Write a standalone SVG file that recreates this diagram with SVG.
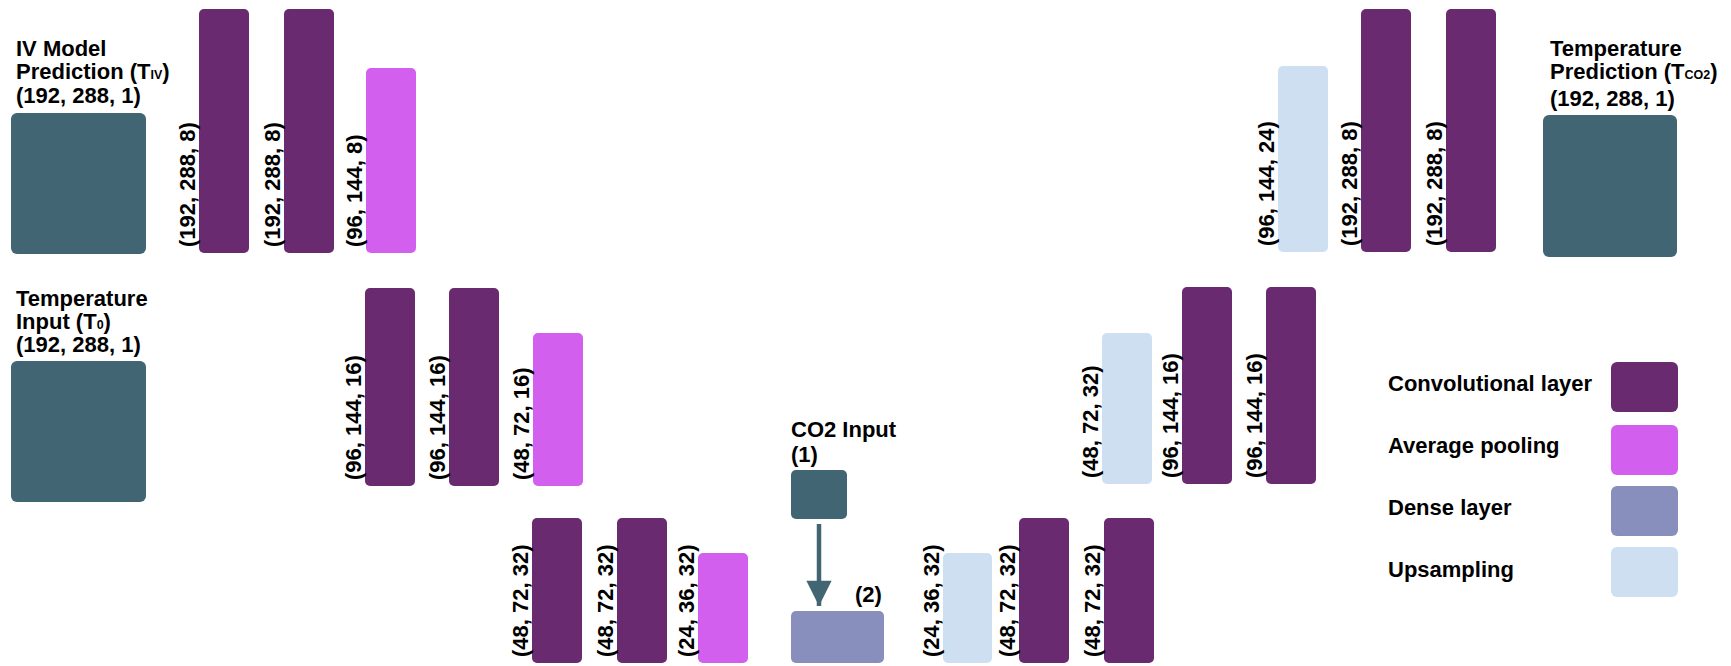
<svg xmlns="http://www.w3.org/2000/svg" width="1731" height="666" viewBox="0 0 1731 666">
  <style>
    text { font-family: "Liberation Sans", Arial, Helvetica, sans-serif; font-weight: bold; fill: #000; font-size: 22px; }
    .sub { font-size: 12.5px; }
    .conv { fill: #692a70; }
    .pool { fill: #d35fee; }
    .dense { fill: #898fbd; }
    .up { fill: #cedff2; }
    .io { fill: #416573; }
  </style>
  <defs>
    <marker id="head" viewBox="0 0 10 10" refX="10" refY="5" markerWidth="6.4" markerHeight="5.6" markerUnits="strokeWidth" orient="auto">
      <path d="M0,0 L10,5 L0,10 Z" fill="#416573"/>
    </marker>
  </defs>
  <rect width="1731" height="666" fill="#fff"/>

  <!-- Inputs and output -->
  <g id="iv-prediction">
    <text x="16" y="56">IV Model</text>
    <text x="16" y="79">Prediction (T<tspan class="sub">IV</tspan>)</text>
    <text x="16" y="103">(192, 288, 1)</text>
    <rect class="io" x="11" y="113" width="135" height="141" rx="6"/>
  </g>
  <g id="temperature-input">
    <text x="16" y="306">Temperature</text>
    <text x="16" y="329">Input (T<tspan class="sub">0</tspan>)</text>
    <text x="16" y="352">(192, 288, 1)</text>
    <rect class="io" x="11" y="361" width="135" height="141" rx="6"/>
  </g>
  <g id="temperature-prediction">
    <text x="1550" y="56">Temperature</text>
    <text x="1550" y="79">Prediction (T<tspan class="sub">CO2</tspan>)</text>
    <text x="1550" y="106">(192, 288, 1)</text>
    <rect class="io" x="1543" y="115" width="134" height="142" rx="6"/>
  </g>
  <g id="co2-input">
    <text x="791" y="437">CO2 Input</text>
    <text x="791" y="462">(1)</text>
    <rect class="io" x="791" y="470" width="56" height="49" rx="5"/>
  </g>
  <g id="dense">
    <text x="855" y="602">(2)</text>
    <rect class="dense" x="791" y="611" width="93" height="52" rx="5"/>
  </g>

  <!-- Encoder, level 1 -->
  <g id="enc1-conv1">
    <rect class="conv" x="199" y="9" width="50" height="244" rx="5"/>
    <text transform="translate(195,247) rotate(-90)">(192, 288, 8)</text>
  </g>
  <g id="enc1-conv2">
    <rect class="conv" x="284" y="9" width="50" height="244" rx="5"/>
    <text transform="translate(280,247) rotate(-90)">(192, 288, 8)</text>
  </g>
  <g id="enc1-pool">
    <rect class="pool" x="366" y="68" width="50" height="185" rx="5"/>
    <text transform="translate(362,247) rotate(-90)">(96, 144, 8)</text>
  </g>

  <!-- Encoder, level 2 -->
  <g id="enc2-conv1">
    <rect class="conv" x="365" y="288" width="50" height="198" rx="5"/>
    <text transform="translate(361,480) rotate(-90)">(96, 144, 16)</text>
  </g>
  <g id="enc2-conv2">
    <rect class="conv" x="449" y="288" width="50" height="198" rx="5"/>
    <text transform="translate(445,480) rotate(-90)">(96, 144, 16)</text>
  </g>
  <g id="enc2-pool">
    <rect class="pool" x="533" y="333" width="50" height="153" rx="5"/>
    <text transform="translate(529,480) rotate(-90)">(48, 72, 16)</text>
  </g>

  <!-- Encoder, level 3 -->
  <g id="enc3-conv1">
    <rect class="conv" x="532" y="518" width="50" height="145" rx="5"/>
    <text transform="translate(528,657) rotate(-90)">(48, 72, 32)</text>
  </g>
  <g id="enc3-conv2">
    <rect class="conv" x="617" y="518" width="50" height="145" rx="5"/>
    <text transform="translate(613,657) rotate(-90)">(48, 72, 32)</text>
  </g>
  <g id="enc3-pool">
    <rect class="pool" x="698" y="553" width="50" height="110" rx="5"/>
    <text transform="translate(694,657) rotate(-90)">(24, 36, 32)</text>
  </g>

  <!-- Decoder, level 3 -->
  <g id="dec3-up">
    <rect class="up" x="943" y="553" width="49" height="110" rx="5"/>
    <text transform="translate(939,657) rotate(-90)">(24, 36, 32)</text>
  </g>
  <g id="dec3-conv1">
    <rect class="conv" x="1019" y="518" width="50" height="145" rx="5"/>
    <text transform="translate(1015,657) rotate(-90)">(48, 72, 32)</text>
  </g>
  <g id="dec3-conv2">
    <rect class="conv" x="1104" y="518" width="50" height="145" rx="5"/>
    <text transform="translate(1100,657) rotate(-90)">(48, 72, 32)</text>
  </g>

  <!-- Decoder, level 2 -->
  <g id="dec2-up">
    <rect class="up" x="1102" y="333" width="50" height="151" rx="5"/>
    <text transform="translate(1098,478) rotate(-90)">(48, 72, 32)</text>
  </g>
  <g id="dec2-conv1">
    <rect class="conv" x="1182" y="287" width="50" height="197" rx="5"/>
    <text transform="translate(1178,478) rotate(-90)">(96, 144, 16)</text>
  </g>
  <g id="dec2-conv2">
    <rect class="conv" x="1266" y="287" width="50" height="197" rx="5"/>
    <text transform="translate(1262,478) rotate(-90)">(96, 144, 16)</text>
  </g>

  <!-- Decoder, level 1 -->
  <g id="dec1-up">
    <rect class="up" x="1278" y="66" width="50" height="186" rx="5"/>
    <text transform="translate(1274,246) rotate(-90)">(96, 144, 24)</text>
  </g>
  <g id="dec1-conv1">
    <rect class="conv" x="1361" y="9" width="50" height="243" rx="5"/>
    <text transform="translate(1357,246) rotate(-90)">(192, 288, 8)</text>
  </g>
  <g id="dec1-conv2">
    <rect class="conv" x="1446" y="9" width="50" height="243" rx="5"/>
    <text transform="translate(1442,246) rotate(-90)">(192, 288, 8)</text>
  </g>

  <!-- Legend -->
  <g id="legend">
    <text x="1388" y="391">Convolutional layer</text>
    <rect class="conv" x="1611" y="362" width="67" height="50" rx="6"/>
    <text x="1388" y="453">Average pooling</text>
    <rect class="pool" x="1611" y="425" width="67" height="50" rx="6"/>
    <text x="1388" y="515">Dense layer</text>
    <rect class="dense" x="1611" y="486" width="67" height="50" rx="6"/>
    <text x="1388" y="577">Upsampling</text>
    <rect class="up" x="1611" y="547" width="67" height="50" rx="6"/>
  </g>

  <!-- Connectors -->
  <g id="connectors">
    <line x1="819" y1="524" x2="819" y2="606" stroke="#416573" stroke-width="4.5" marker-end="url(#head)"/>
  </g>
</svg>
